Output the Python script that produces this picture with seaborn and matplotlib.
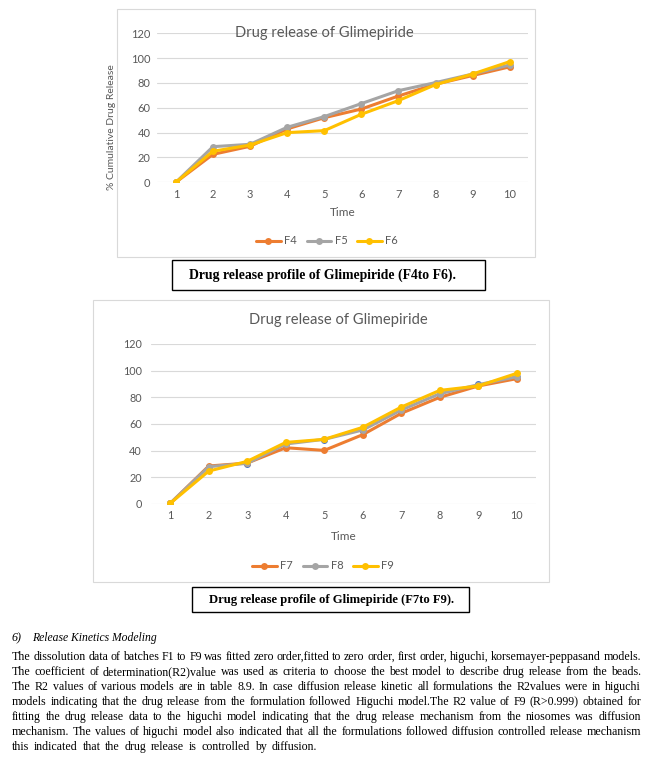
import matplotlib
matplotlib.use("Agg")
import matplotlib.pyplot as plt
import seaborn as sns
import pandas as pd
from matplotlib.patches import Rectangle

# ---------------- data ----------------
time_points = [1, 2, 3, 4, 5, 6, 7, 8, 9, 10]
f4 = [0, 22.5, 29, 43, 52, 59, 69.5, 79, 86, 93]
f5 = [0, 28.7, 30.6, 44.3, 52.9, 63.4, 73.8, 80.3, 87.2, 94.5]
f6 = [0, 25, 30, 40, 41.6, 54.8, 65.8, 78.7, 87.2, 97.2]
f7 = [0.5, 28.5, 30.7, 42.2, 40.2, 52, 68, 80, 88.5, 94]
f8 = [0.5, 28, 30.5, 45, 48.5, 55.5, 70.5, 82.7, 89.5, 95.5]
f9 = [0.5, 24.7, 32, 46.2, 48.5, 57.5, 72.7, 85.2, 88.5, 98]
hidden_blue = [0.5, 28, 30, 45, 48, 55, 70, 82, 90, 95]
y_ticks = [0, 20, 40, 60, 80, 100, 120]

chart_title = "Drug release of Glimepiride"
caption1 = "Drug release profile of Glimepiride (F4to F6)."
caption2 = "Drug release profile of Glimepiride (F7to F9)."
heading_num = "6)"
heading_txt = "Release Kinetics Modeling"
body_lines = [
    "The dissolution data of batches F1 to F9 was fitted zero order,fitted to zero order, first order, higuchi, korsemayer-peppasand models.",
    "The coefficient of determination(R2)value was used as criteria to choose the best model to describe drug release from the beads.",
    "The R2 values of various models are in table 8.9. In case diffusion release kinetic all formulations the R2values were in higuchi",
    "models indicating that the drug release from the formulation followed Higuchi model.The R2 value of F9 (R>0.999) obtained for",
    "fitting the drug release data to the higuchi model indicating that the drug release mechanism from the niosomes was diffusion",
    "mechanism. The values of higuchi model also indicated that all the formulations followed diffusion controlled release mechanism",
    "this indicated that the drug release is controlled by diffusion.",
]

# ---------------- style ----------------
sns.set_theme(style="white")
plt.rcParams["font.family"] = ["Lato", "DejaVu Sans"]

ORANGE, GRAY, YELLOW, BLUE = "#ED7D31", "#A5A5A5", "#FFC000", "#4472C4"
TXT = "#595959"
GRID = "#D9D9D9"

W, H = 651, 760
fig = plt.figure(figsize=(W / 100, H / 100), dpi=100)
fig.patch.set_facecolor("white")
renderer = fig.canvas.get_renderer()


def fx(x):
    return x / W


def fy(y):
    return 1 - y / H


def fit_width(t, target, vertical=False):
    bb = t.get_window_extent(renderer)
    cur = bb.height if vertical else bb.width
    t.set_fontsize(t.get_fontsize() * target / cur)


def border(x0, y0, x1, y1, color, lw):
    fig.add_artist(Rectangle((fx(x0), fy(y1)), (x1 - x0) / W, (y1 - y0) / H,
                             transform=fig.transFigure, fill=False,
                             edgecolor=color, linewidth=lw))


def style_axes(ax, ypad, lsize):
    ax.set_xlim(0.5, 10.5)
    ax.set_ylim(0, 120)
    ax.set_yticks(y_ticks)
    ax.set_xticks(time_points)
    ax.set_xticklabels([str(t) for t in time_points])
    for s in ax.spines.values():
        s.set_visible(False)
    ax.yaxis.grid(True, color=GRID, linewidth=0.8)
    ax.xaxis.grid(False)
    ax.set_axisbelow(True)
    ax.tick_params(axis="both", length=0, labelsize=lsize, colors=TXT)
    ax.tick_params(axis="y", pad=ypad)
    ax.tick_params(axis="x", pad=4.5)
    ax.set_facecolor("none")


line_kw = dict(marker="o", markersize=5, linewidth=2.2, markeredgewidth=0)

# ---------------- chart 1 ----------------
border(117, 9, 535, 257, GRID, 0.8)
ax1 = fig.add_axes([fx(157.3), fy(182.3), 371 / W, 149 / H])
for vals, name, col in [(f4, "F4", ORANGE), (f5, "F5", GRAY), (f6, "F6", YELLOW)]:
    sns.lineplot(x=time_points, y=vals, ax=ax1, color=col, label=name, **line_kw)
style_axes(ax1, 5, 8)
ax1.set_xlabel("Time", color=TXT, fontsize=8.5)
ax1.xaxis.set_label_coords((343 - 157.3) / 371, (182.3 - 213) / 149)
ax1.xaxis.label.set_va("center")
ax1.set_ylabel("% Cumulative Drug Release", color=TXT, fontsize=7.5)
ax1.yaxis.set_label_coords((112 - 157.3) / 371, (182.3 - 127) / 149)
ax1.yaxis.label.set_va("center")
t1 = ax1.text((324 - 157.3) / 371, (182.3 - 33) / 149, chart_title,
              transform=ax1.transAxes, ha="center", va="center",
              color=TXT, fontsize=10.5)
h, l = ax1.get_legend_handles_labels()
ax1.legend(h, l, loc="center", bbox_to_anchor=((327 - 157.3) / 371, (182.3 - 241) / 149),
           ncol=3, frameon=False, fontsize=8, handlelength=2.2,
           handletextpad=0.3, columnspacing=0.9, labelcolor=TXT)

# ---------------- chart 2 ----------------
border(93, 300, 549, 582, GRID, 0.8)
ax2 = fig.add_axes([fx(151), fy(504), 385 / W, 160 / H])
sns.lineplot(x=time_points, y=hidden_blue, ax=ax2, color=BLUE, marker="o",
             markersize=5, markeredgewidth=0, linestyle="none", legend=False)
for vals, name, col in [(f7, "F7", ORANGE), (f8, "F8", GRAY), (f9, "F9", YELLOW)]:
    sns.lineplot(x=time_points, y=vals, ax=ax2, color=col, label=name, **line_kw)
style_axes(ax2, 6.5, 7.8)
ax2.set_xlabel("Time", color=TXT, fontsize=8.5)
ax2.xaxis.set_label_coords((344 - 151) / 385, (504 - 536) / 160)
ax2.xaxis.label.set_va("center")
ax2.set_ylabel("")
t2 = ax2.text((338 - 151) / 385, (504 - 320) / 160, chart_title,
              transform=ax2.transAxes, ha="center", va="center",
              color=TXT, fontsize=10.5)
h, l = ax2.get_legend_handles_labels()
h = [hh for hh, ll in zip(h, l) if ll in ("F7", "F8", "F9")]
l = [ll for ll in l if ll in ("F7", "F8", "F9")]
ax2.legend(h, l, loc="center", bbox_to_anchor=((323 - 151) / 385, (504 - 566) / 160),
           ncol=3, frameon=False, fontsize=8, handlelength=2.2,
           handletextpad=0.3, columnspacing=0.9, labelcolor=TXT)

fit_width(t1, 180)
fit_width(t2, 180)

# ---------------- captions ----------------
SERIF = ["Liberation Serif", "DejaVu Serif"]
border(172, 260, 485, 290, "black", 1.0)
c1 = fig.text(fx(189), fy(279.3), caption1, family=SERIF, weight="bold",
              fontsize=10, ha="left", va="baseline", color="black")
fit_width(c1, 268)
border(192, 587, 469, 612, "black", 1.0)
c2 = fig.text(fx(209), fy(602.7), caption2, family=SERIF, weight="bold",
              fontsize=10, ha="left", va="baseline", color="black")
fit_width(c2, 246)

# ---------------- paragraph ----------------
x_left, x_right = 12, 641


def word_widths(words, fs, style="normal"):
    out = []
    for w in words:
        t = fig.text(0, 0, w, family=SERIF, fontsize=fs, style=style)
        out.append(t.get_window_extent(renderer).width)
        t.remove()
    return out


fs0 = 8.5
space0 = 0.25 * fs0 * 100 / 72
nat = []
for ln in body_lines[:-1]:
    ws = ln.split()
    nat.append(sum(word_widths(ws, fs0)) + space0 * (len(ws) - 1))
fs = fs0 * (x_right - x_left) / max(nat)
space = 0.25 * fs * 100 / 72

h1 = fig.text(fx(12), fy(641), heading_num, family=SERIF, style="italic",
              fontsize=fs, ha="left", va="baseline", color="black")
h2 = fig.text(fx(32), fy(641), heading_txt, family=SERIF, style="italic",
              fontsize=fs, ha="left", va="baseline", color="black")
fit_width(h2, 125)

baselines = [660, 675, 690, 705, 720, 735, 750]
for i, (ln, yb) in enumerate(zip(body_lines, baselines)):
    ws = ln.split()
    wd = word_widths(ws, fs)
    if i < len(body_lines) - 1:
        gap = (x_right - x_left - sum(wd)) / (len(ws) - 1)
    else:
        gap = space * 1.6
    x = x_left
    for w, wdt in zip(ws, wd):
        fig.text(fx(x), fy(yb), w, family=SERIF, fontsize=fs, ha="left",
                 va="baseline", color="black")
        x += wdt + gap

fig.savefig("out.png", dpi=100)
